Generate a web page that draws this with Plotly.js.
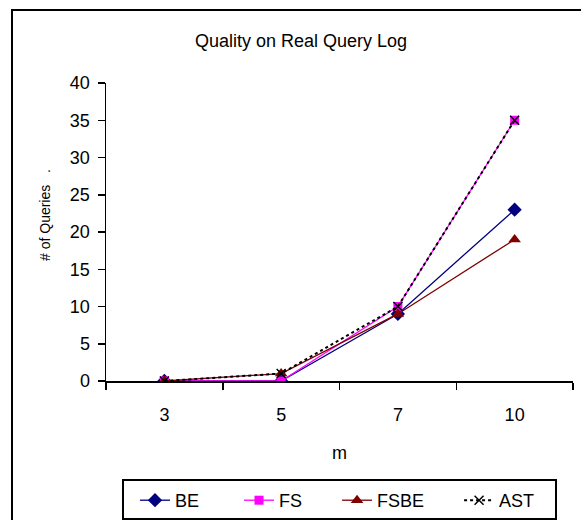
<!DOCTYPE html>
<html>
<head>
<meta charset="utf-8">
<script src="https://cdn.plot.ly/plotly-3.0.1.min.js"></script>
<style>
  html, body { margin: 0; padding: 0; background: #fff; }
  #chart { width: 581px; height: 520px; }
</style>
</head>
<body>
<div id="chart"></div>
<script>
const categories = ["3", "5", "7", "10"];
const seriesNames = ["BE", "FS", "FSBE", "AST"];
const beValues = [0, 0, 9, 23];
const fsValues = [0, 0, 10, 35];
const fsbeValues = [0, 1, 9, 19];
const astValues = [0, 1, 10, 35];
const yTicks = [0, 5, 10, 15, 20, 25, 30, 35, 40];

const FONT = "Liberation Sans, Arial, sans-serif";
const pad = n => "\u00a0".repeat(n);

const PL = 106, PW = 467, PB = 381, PH = 298;
const px = v => (v - PL) / PW;
const py = v => (PB - v) / PH;

const traces = [
  {
    x: categories, y: beValues, name: seriesNames[0] + pad(7), type: "scatter", mode: "lines+markers",
    line: { color: "#000080", width: 1.3 },
    marker: { symbol: "diamond", size: 11, color: "#000080" }
  },
  {
    x: categories, y: fsValues, name: seriesNames[1] + pad(6), type: "scatter", mode: "lines+markers",
    line: { color: "#FF00FF", width: 1.3 },
    marker: { symbol: "square", size: 9, color: "#FF00FF" }
  },
  {
    x: categories, y: fsbeValues, name: seriesNames[2] + pad(6), type: "scatter", mode: "lines+markers",
    line: { color: "#800000", width: 1.3 },
    marker: { symbol: "triangle-up", size: 11, color: "#800000" }
  },
  {
    x: categories, y: astValues, name: seriesNames[3], type: "scatter", mode: "lines+markers",
    line: { color: "#000000", width: 2, dash: "dot" },
    marker: { symbol: "x-thin-open", size: 9, color: "#000000", line: { color: "#000000", width: 1.5 } }
  }
];

const layout = {
  width: 581,
  height: 520,
  margin: { l: 106, r: 8, t: 83, b: 139 },
  paper_bgcolor: "#ffffff",
  plot_bgcolor: "#ffffff",
  font: { family: FONT, size: 18, color: "#000000" },
  title: {
    text: "Quality on Real Query Log",
    font: { family: FONT, size: 18, color: "#000000" },
    x: 0.518, xref: "container", xanchor: "center",
    y: 0.921, yref: "container", yanchor: "middle"
  },
  xaxis: {
    type: "category",
    range: [-0.5, 3.5],
    tickson: "boundaries",
    ticks: "outside",
    ticklen: 7,
    tickwidth: 1.5,
    tickcolor: "#000",
    showline: true,
    linecolor: "#000",
    linewidth: 1.5,
    showgrid: false,
    zeroline: false,
    automargin: false,
    ticklabelstandoff: 17,
    tickfont: { family: FONT, size: 18, color: "#000" },
    title: { text: "m", font: { family: FONT, size: 18, color: "#000" }, standoff: 22 }
  },
  yaxis: {
    range: [0, 40],
    tickvals: yTicks,
    ticktext: yTicks.map(String),
    ticks: "outside",
    ticklen: 7,
    tickwidth: 1.5,
    tickcolor: "#000",
    showline: true,
    linecolor: "#000",
    linewidth: 1.5,
    showgrid: false,
    zeroline: false,
    automargin: false,
    ticklabelstandoff: 4,
    tickfont: { family: FONT, size: 18, color: "#000" },
    title: { text: "" }
  },
  annotations: [
    {
      text: "# of Queries\u00a0\u00a0\u00a0.",
      textangle: -90,
      xref: "paper", yref: "paper",
      x: px(45), y: py(215),
      xanchor: "center", yanchor: "middle",
      showarrow: false,
      font: { family: FONT, size: 14, color: "#000" }
    }
  ],
  shapes: [
    {
      type: "rect", xref: "paper", yref: "paper", layer: "below",
      x0: px(12), x1: px(600), y0: py(600), y1: py(10),
      line: { color: "#000", width: 2 }, fillcolor: "rgba(0,0,0,0)"
    },
    {
      type: "rect", xref: "paper", yref: "paper", layer: "above",
      x0: px(123), x1: px(556), y0: py(519), y1: py(480),
      line: { color: "#000", width: 2 }, fillcolor: "rgba(0,0,0,0)"
    }
  ],
  showlegend: true,
  legend: {
    orientation: "h",
    xref: "container", yref: "container",
    x: 135 / 581, xanchor: "left",
    y: 1 - 482 / 520, yanchor: "top",
    borderwidth: 0,
    bgcolor: "rgba(0,0,0,0)",
    font: { family: FONT, size: 18, color: "#000" },
    traceorder: "normal"
  }
};

Plotly.newPlot("chart", traces, layout, { displayModeBar: false, staticPlot: true });
</script>
</body>
</html>
